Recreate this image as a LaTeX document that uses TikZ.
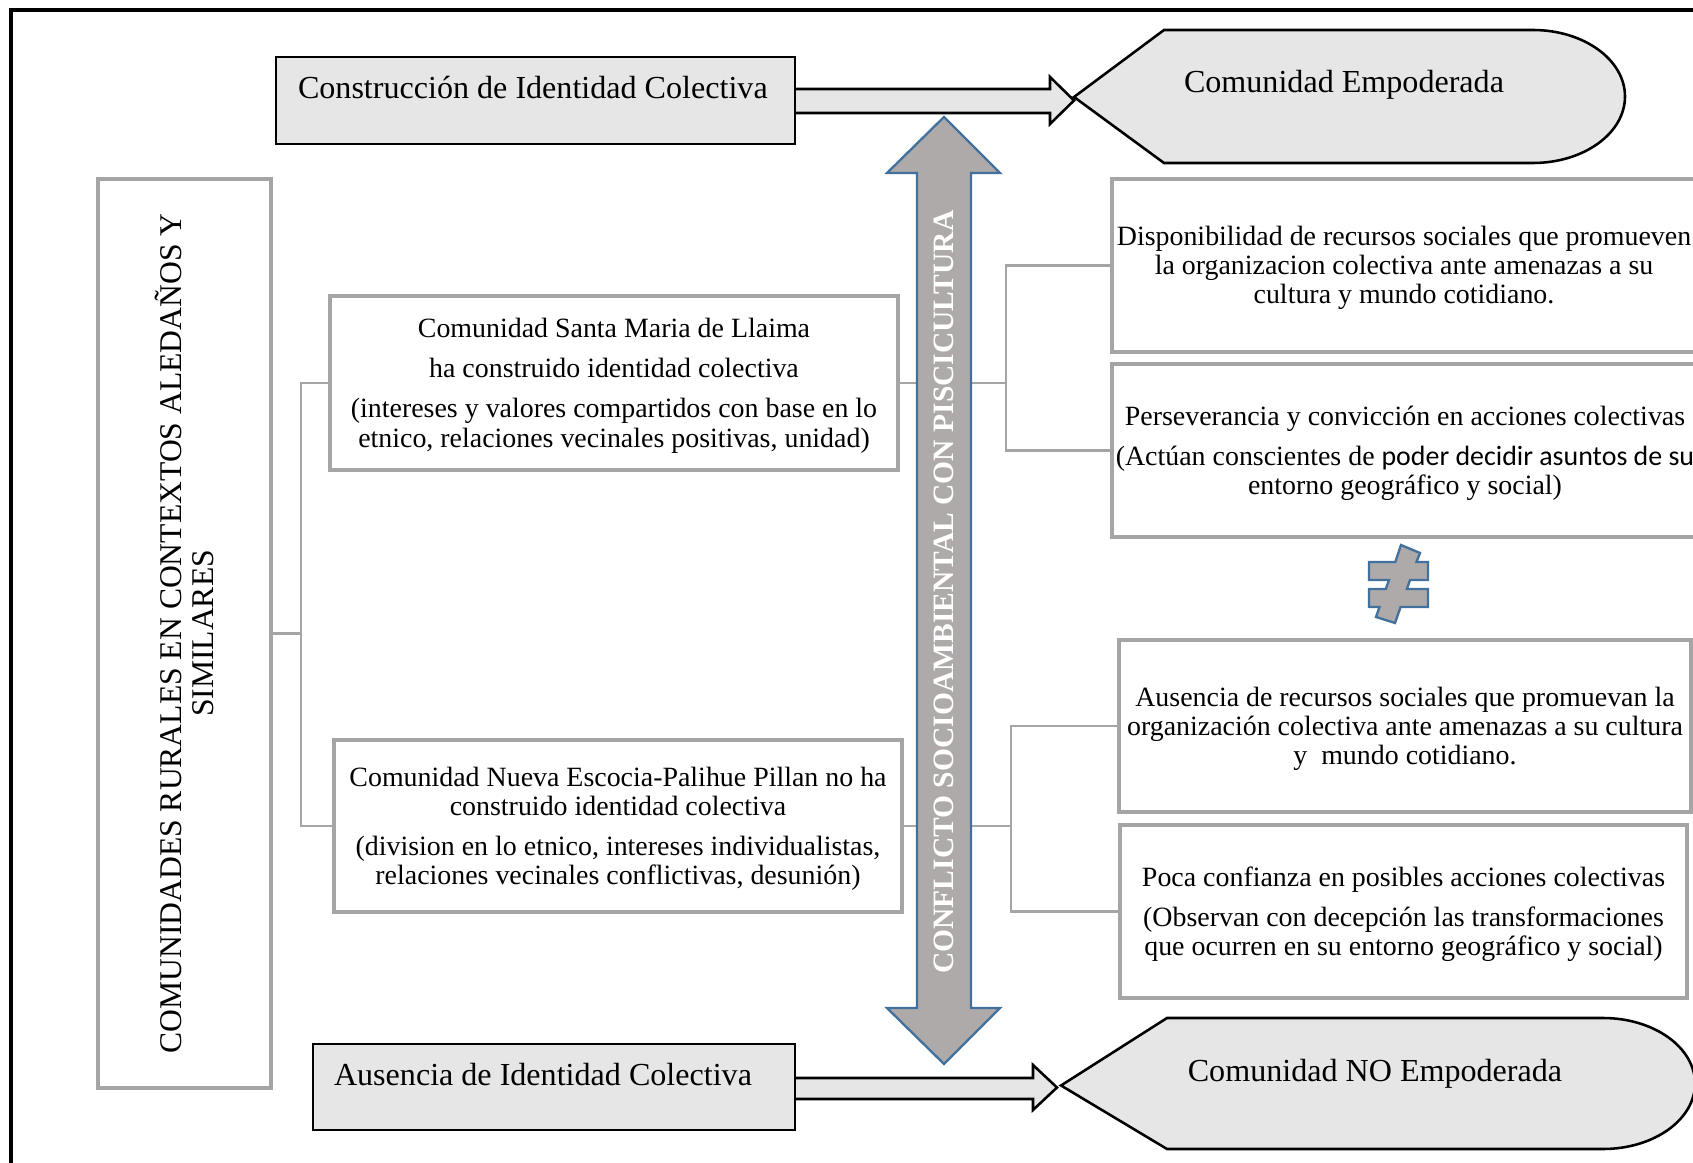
\documentclass[tikz,border=0pt]{standalone}
\usepackage{fontspec}
\setmainfont{Liberation Serif}
\newfontfamily\calibfont{Carlito}
\definecolor{boxline}{HTML}{A5A5A5}
\definecolor{lightfill}{HTML}{E6E6E6}
\definecolor{arrowfill}{HTML}{AEAAAA}
\definecolor{arrowline}{HTML}{41719C}
\newcommand\pxu{0.43pt}
\begin{document}
\begin{tikzpicture}[x=0.43pt,y=-0.43pt,
  every node/.style={inner sep=0pt, outer sep=0pt},
  graybox/.style={draw=boxline, line width=1.5pt, fill=white, rectangle},
  conn/.style={draw=boxline, line width=0.9pt},
  bodytext/.style={font=\fontsize{12}{12.5}\selectfont, align=center},
  headtext/.style={font=\fontsize{13.8}{15}\selectfont},
  lightshape/.style={fill=lightfill, draw=black, line width=1.1pt, line join=miter},
  conflict/.style={fill=arrowfill, draw=arrowline, line width=1pt, line join=miter}]

\useasboundingbox (0,0) rectangle (1693,1163);
\fill[white] (0,0) rectangle (1693,1163);
\clip (0,0) rectangle (1693,1163);

% left column
\node[graybox, minimum width=173*\pxu, minimum height=909*\pxu] (lbox) at (184.5,633.5) {};
\node[rotate=90, align=center, font=\fontsize{13.6}{13.8}\selectfont] (lboxtext) at (lbox.center)
  {COMUNIDADES RURALES EN CONTEXTOS ALEDAÑOS Y\\SIMILARES};

% the two communities
\node[graybox, minimum width=568*\pxu, minimum height=174*\pxu] (c1) at (614,383) {};
\node[bodytext] (c1text) at ([yshift=-1.1pt]c1.center)
  {Comunidad Santa Maria de Llaima\\[4.9pt]
   ha construido identidad colectiva\\[4.7pt]
   (intereses y valores compartidos con base en lo\\
   etnico, relaciones vecinales positivas, unidad)};
\node[graybox, minimum width=568*\pxu, minimum height=172*\pxu] (c2) at (618,826) {};
\node[bodytext] (c2text) at ([yshift=-1.1pt]c2.center)
  {Comunidad Nueva Escocia-Palihue Pillan no ha\\
   construido identidad colectiva\\[4.5pt]
   (division en lo etnico, intereses individualistas,\\
   relaciones vecinales conflictivas, desunión)};

% outcomes on the right
\node[graybox, minimum width=584*\pxu, minimum height=173*\pxu] (ra) at (1404,265.5) {};
\node[bodytext] (ratext) at ([yshift=-1.1pt]ra.center)
  {Disponibilidad de recursos sociales que promueven\\
   la organizacion colectiva ante amenazas a su\\
   cultura y mundo cotidiano.};
\node[graybox, minimum width=586*\pxu, minimum height=173*\pxu] (rb) at (1405,450.5) {};
\node[bodytext] (rbtext) at ([yshift=-1.1pt]rb.center)
  {Perseverancia y convicción en acciones colectivas\\[4.7pt]
   (Actúan conscientes de {\calibfont poder decidir asuntos de su}\\
   entorno geográfico y social)};
\node[graybox, minimum width=572*\pxu, minimum height=172*\pxu] (rc) at (1405,726) {};
\node[bodytext] (rctext) at ([yshift=-1.2pt]rc.center)
  {Ausencia de recursos sociales que promuevan la\\
   organización colectiva ante amenazas a su cultura\\
   y\ \ mundo cotidiano.};
\node[graybox, minimum width=567*\pxu, minimum height=173*\pxu] (rd) at (1403.5,911.5) {};
\node[bodytext] (rdtext) at ([yshift=-1.2pt]rd.center)
  {Poca confianza en posibles acciones colectivas\\[4.7pt]
   (Observan con decepción las transformaciones\\
   que ocurren en su entorno geográfico y social)};

% connectors
\coordinate (lj) at (301,633.5);
\coordinate (rj1) at (1006,383);
\coordinate (rj2) at (1011,826);
\draw[conn] (lbox.east) -- (lj);
\draw[conn] (c1.west) -| (lj);
\draw[conn] (c2.west) -| (lj);
\draw[conn] (c1.east) -- (rj1);
\draw[conn] (ra.west) -| (rj1);
\draw[conn] (rb.west) -| (rj1);
\draw[conn] (c2.east) -- (rj2);
\draw[conn] (rc.west) -| (rj2);
\draw[conn] (rd.west) -| (rj2);

% top: identity built -> empowered community
\draw[lightshape] (795,89) -- (1050,89) -- (1050,77) -- (1074,100.5) -- (1050,124) -- (1050,113) -- (795,113);
\node[lightshape, minimum width=519*\pxu, minimum height=87*\pxu] (tb) at (535.5,100.5) {};
\node[headtext, anchor=base west] (tbtext) at (298,98.3) {Construcción de Identidad Colectiva};
\draw[lightshape] (1074,97) -- (1164,30) -- (1533,30)
  .. controls (1583.8,30) and (1625,59.8) .. (1625,96.5)
  .. controls (1625,133.2) and (1583.8,163) .. (1533,163) -- (1164,163) -- cycle;
\node[headtext, anchor=base] (emp) at (1344,92.5) {Comunidad Empoderada};

% bottom: no identity -> not empowered
\draw[lightshape] (795,1078) -- (1033,1078) -- (1033,1065) -- (1057,1087.5) -- (1033,1110) -- (1033,1099) -- (795,1099);
\node[lightshape, minimum width=482*\pxu, minimum height=86*\pxu] (bb) at (554,1087) {};
\node[headtext, anchor=base west] (bbtext) at (334,1085.5) {Ausencia de Identidad Colectiva};
\draw[lightshape] (1061,1085.5) -- (1167,1018) -- (1603,1018)
  .. controls (1653.8,1018) and (1695,1047.3) .. (1695,1083.5)
  .. controls (1695,1119.7) and (1653.8,1149) .. (1603,1149) -- (1167,1149) -- cycle;
\node[headtext, anchor=base] (noemp) at (1375,1081.5) {Comunidad NO Empoderada};

% central double arrow
\draw[conflict] (944,117) -- (1000,173) -- (971,173) -- (971,1008) -- (1000,1008) -- (944,1064)
  -- (887,1008) -- (917,1008) -- (917,173) -- (887,173) -- cycle;
\node[rotate=90, text=white, font=\bfseries\fontsize{12.7}{13}\selectfont] (conftext) at (944,592)
  {CONFLICTO SOCIOAMBIENTAL CON PISCICULTURA};

% not-equal sign
\draw[conflict] (1401,545) -- (1420,553) -- (1416.4,562) -- (1428,562) -- (1428,580) -- (1410,580)
  -- (1406.9,589) -- (1428,589) -- (1428,607) -- (1400.6,607) -- (1395,623) -- (1376,617)
  -- (1379.5,607) -- (1369,607) -- (1369,589) -- (1385.8,589) -- (1389,580) -- (1369,580)
  -- (1369,562) -- (1395.3,562) -- cycle;

% outer frame
\draw[line width=1.6pt] (11,10) rectangle (1760,1250);
\end{tikzpicture}
\end{document}
